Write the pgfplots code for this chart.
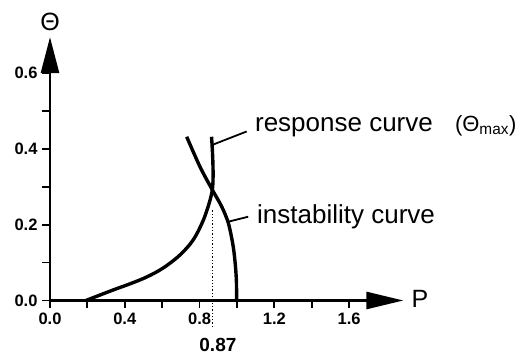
\documentclass[border=0pt]{standalone}
\usepackage{fontspec}
\setmainfont{Liberation Sans}
\usepackage{pgfplots}
\pgfplotsset{compat=1.18}
\usetikzlibrary{arrows.meta}
\begin{document}
\begin{tikzpicture}
\useasboundingbox (-50pt,-57.5pt) rectangle (470pt,300.5pt);
\begin{axis}[
  at={(0,0)}, anchor=origin,
  scale only axis, width=353.4pt, height=263.4pt,
  xmin=0, xmax=1.89, ymin=0, ymax=0.695,
  axis lines=left,
  axis line style={line width=2.6pt},
  x axis line style={-{Triangle[length=37pt,width=17pt]}},
  y axis line style={-{Triangle[length=36pt,width=18pt]}},
  clip=false,
  xtick={0,0.4,0.8,1.2,1.6},
  xticklabels={0.0,0.4,0.8,1.2,1.6},
  minor xtick={0.2,0.6,1.0,1.4},
  ytick={0,0.2,0.4,0.6},
  yticklabels={0.0,0.2,0.4,0.6},
  minor ytick={0.1,0.3,0.5},
  tick align=outside,
  major tick length=8pt, minor tick length=8pt,
  every tick/.style={line width=1.8pt, black},
  tick label style={font=\bfseries\fontsize{16.5}{16.5}\selectfont},
  xticklabel style={yshift=-1pt},
  yticklabel style={xshift=-1pt},
]
% response curve
\addplot[line width=3.4pt, smooth, tension=0.55] coordinates {
 (0.192,0) (0.339,0.028) (0.428,0.044) (0.517,0.062) (0.606,0.086) (0.695,0.12)
 (0.766,0.16) (0.82,0.212) (0.856,0.265) (0.870,0.300) (0.872,0.344) (0.869,0.39) (0.864,0.432)};
% instability curve
\addplot[line width=3.4pt, smooth, tension=0.5] coordinates {
 (0.998,0) (0.997,0.05) (0.991,0.095) (0.979,0.145) (0.954,0.204) (0.918,0.248)
 (0.868,0.292) (0.802,0.353) (0.731,0.432)};
% dotted marker
\addplot[line width=1.3pt, dotted] coordinates {(0.868,-0.07) (0.868,0.238)};
% leaders
\addplot[line width=1.8pt] coordinates {(0.865,0.41) (1.052,0.446)};
\addplot[line width=1.8pt] coordinates {(0.954,0.208) (1.06,0.221)};
\node[anchor=base west, font=\fontsize{26}{26}\selectfont, inner sep=0pt] at (axis cs:1.096,0.445) {response curve};
\node[anchor=base west, font=\fontsize{22}{22}\selectfont, inner sep=0pt] at (axis cs:2.165,0.445) {(Θ\textsubscript{max})};
\node[anchor=base west, font=\fontsize{26}{26}\selectfont, inner sep=0pt] at (axis cs:1.107,0.202) {instability curve};
\node[font=\fontsize{25}{25}\selectfont] at (axis cs:0,0.735) {Θ};
\node[font=\fontsize{25}{25}\selectfont] at (axis cs:1.979,0.003) {P};
\node[font=\bfseries\fontsize{19}{19}\selectfont] at (axis cs:0.898,-0.117) {0.87};
\end{axis}
\end{tikzpicture}
\end{document}
